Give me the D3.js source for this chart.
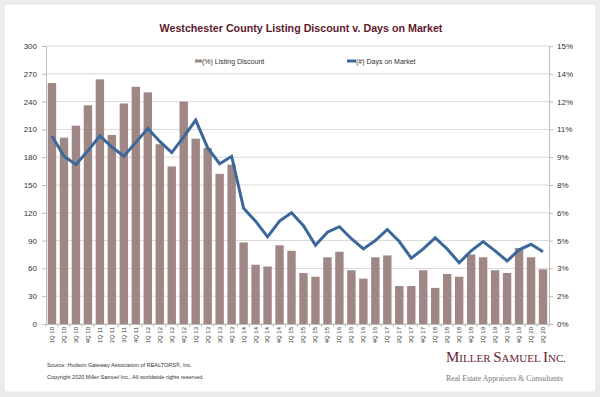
<!DOCTYPE html>
<html>
<head>
<meta charset="utf-8">
<script src="https://cdn.jsdelivr.net/npm/d3@7"></script>
<style>
  body { margin: 0; background: #ececec; }
  svg { display: block; font-family: "Liberation Sans", Arial, sans-serif; }
</style>
</head>
<body>
<div id="chart"></div>
<script>
// quarters 1Q10 .. 2Q20
const quarters = [];
for (let y = 10; y <= 20; y++) {
  for (let q = 1; q <= 4; q++) {
    if (y === 20 && q > 2) break;
    quarters.push(q + "Q " + y);
  }
}

// (%) Listing Discount - bars, right axis
const listingDiscount = [
  13.0, 10.05, 10.7, 11.8, 13.2, 10.2, 11.9, 12.8, 12.5, 9.7, 8.5,
  12.0, 10.0, 9.5, 8.1, 8.6, 4.4, 3.2, 3.1, 4.25, 3.95, 2.75,
  2.55, 3.6, 3.9, 2.9, 2.45, 3.6, 3.7, 2.05, 2.05, 2.9, 1.95,
  2.7, 2.55, 3.75, 3.6, 2.9, 2.75, 4.1, 3.6, 2.95
];

// (#) Days on Market - line, left axis
const daysOnMarket = [
  203, 181, 172, 187, 203, 191, 181, 196, 211, 197, 185,
  202, 220, 190, 173, 181, 125, 111, 94, 111, 120, 106,
  85, 99, 105, 92, 81, 90, 102, 89, 71, 81, 93,
  81, 66, 79, 89, 79, 68, 80, 86, 78
];

const leftTicks = [0, 30, 60, 90, 120, 150, 180, 210, 240, 270, 300];
const rightTicks = [0, 1.5, 3, 4.5, 6, 7.5, 9, 10.5, 12, 13.5, 15];

const W = 600, H = 397;
const plot = { left: 46, right: 549, top: 46, bottom: 324 };

const svg = d3.select("#chart").append("svg")
  .attr("width", W).attr("height", H);

// card
svg.append("rect").attr("x", 0).attr("y", 0).attr("width", W).attr("height", H).attr("fill", "#ececec");
svg.append("rect").attr("x", 4).attr("y", 4).attr("width", W - 8).attr("height", H - 9)
  .attr("fill", "#fff").attr("stroke", "#e2e2e2");

// title
svg.append("text")
  .attr("x", 301).attr("y", 32)
  .attr("text-anchor", "middle")
  .style("font-size", "10.7px").style("font-weight", "bold")
  .attr("fill", "#5e1a2c")
  .text("Westchester County Listing Discount v. Days on Market");

const x = d3.scaleBand().domain(quarters)
  .range([plot.left, plot.right]).paddingInner(0.3).paddingOuter(0.15);
const yL = d3.scaleLinear().domain([0, 300]).range([plot.bottom, plot.top]);
const yR = d3.scaleLinear().domain([0, 15]).range([plot.bottom, plot.top]);

// gridlines
svg.append("g").selectAll("line").data(leftTicks).join("line")
  .attr("x1", plot.left).attr("x2", plot.right)
  .attr("y1", d => yL(d)).attr("y2", d => yL(d))
  .attr("stroke", "#d9d9d9").attr("stroke-width", 1);

// left axis
const gl = svg.append("g").attr("transform", `translate(${plot.left},0)`)
  .call(d3.axisLeft(yL).tickValues(leftTicks).tickSize(4).tickPadding(5));
gl.select(".domain").attr("stroke", "#bdbdbd");
gl.selectAll(".tick line").attr("stroke", "#bdbdbd");
gl.selectAll("text").style("font-size", "8px").attr("fill", "#333");

// right axis
const gr = svg.append("g").attr("transform", `translate(${plot.right},0)`)
  .call(d3.axisRight(yR).tickValues(rightTicks).tickSize(4).tickPadding(4)
    .tickFormat(d => Math.round(d) + "%"));
gr.select(".domain").attr("stroke", "#bdbdbd");
gr.selectAll(".tick line").attr("stroke", "#bdbdbd");
gr.selectAll("text").style("font-size", "8px").attr("fill", "#333");

// bars
svg.append("g").selectAll("rect").data(quarters).join("rect")
  .attr("x", d => x(d))
  .attr("width", x.bandwidth())
  .attr("y", (d, i) => yR(listingDiscount[i]))
  .attr("height", (d, i) => yR(0) - yR(listingDiscount[i]))
  .attr("fill", "#9f8785");

// line
const line = d3.line()
  .x((d, i) => x(quarters[i]) + x.bandwidth() / 2)
  .y(d => yL(d));
svg.append("path").datum(daysOnMarket)
  .attr("fill", "none").attr("stroke", "#3b679b")
  .attr("stroke-width", 3).attr("stroke-linejoin", "miter")
  .attr("d", line);

// bottom axis
const gb = svg.append("g").attr("transform", `translate(0,${plot.bottom})`)
  .call(d3.axisBottom(x).tickSize(0).tickPadding(0));
gb.select(".domain").attr("stroke", "#bdbdbd");
gb.selectAll(".tick text")
  .style("font-size", "6px").attr("fill", "#333")
  .attr("transform", "rotate(-90)")
  .attr("text-anchor", "end")
  .attr("x", -3).attr("y", 0).attr("dy", "0.32em");
// small category separators
const step = x.step();
svg.append("g").selectAll("line").data(d3.range(quarters.length + 1)).join("line")
  .attr("x1", i => plot.left + i * step).attr("x2", i => plot.left + i * step)
  .attr("y1", plot.bottom).attr("y2", plot.bottom + 3)
  .attr("stroke", "#bdbdbd");

// legend
const lg = svg.append("g").style("font-size", "7px").attr("fill", "#333");
lg.append("rect").attr("x", 195).attr("y", 59.5).attr("width", 7).attr("height", 3).attr("fill", "#9f8785");
lg.append("text").attr("x", 202).attr("y", 63.5).text("(%) Listing Discount");
lg.append("rect").attr("x", 347).attr("y", 59.5).attr("width", 9).attr("height", 3).attr("fill", "#3b679b");
lg.append("text").attr("x", 356).attr("y", 63.5).text("(#) Days on Market");

// footer
const ft = svg.append("g").style("font-size", "5.5px").attr("fill", "#333");
ft.append("text").attr("x", 47).attr("y", 367).text("Source: Hudson Gateway Association of REALTORS\u00ae, Inc.");
ft.append("text").attr("x", 47).attr("y", 379).text("Copyright 2020 Miller Samuel Inc., All worldwide rights reserved.");

const logo = svg.append("g").style("font-family", "'Liberation Serif', 'DejaVu Serif', serif");
const t1 = logo.append("text").attr("x", 446).attr("y", 362).attr("fill", "#6a1f2c").style("font-size", "15px");
t1.append("tspan").text("M");
t1.append("tspan").style("font-size", "11px").text("ILLER ");
t1.append("tspan").text("S");
t1.append("tspan").style("font-size", "11px").text("AMUEL ");
t1.append("tspan").text("I");
t1.append("tspan").style("font-size", "11px").text("NC.");
logo.append("text").attr("x", 446).attr("y", 381).attr("fill", "#777")
  .style("font-size", "8.5px")
  .attr("textLength", 117).attr("lengthAdjust", "spacingAndGlyphs")
  .text("Real Estate Appraisers & Consultants");
</script>
</body>
</html>
